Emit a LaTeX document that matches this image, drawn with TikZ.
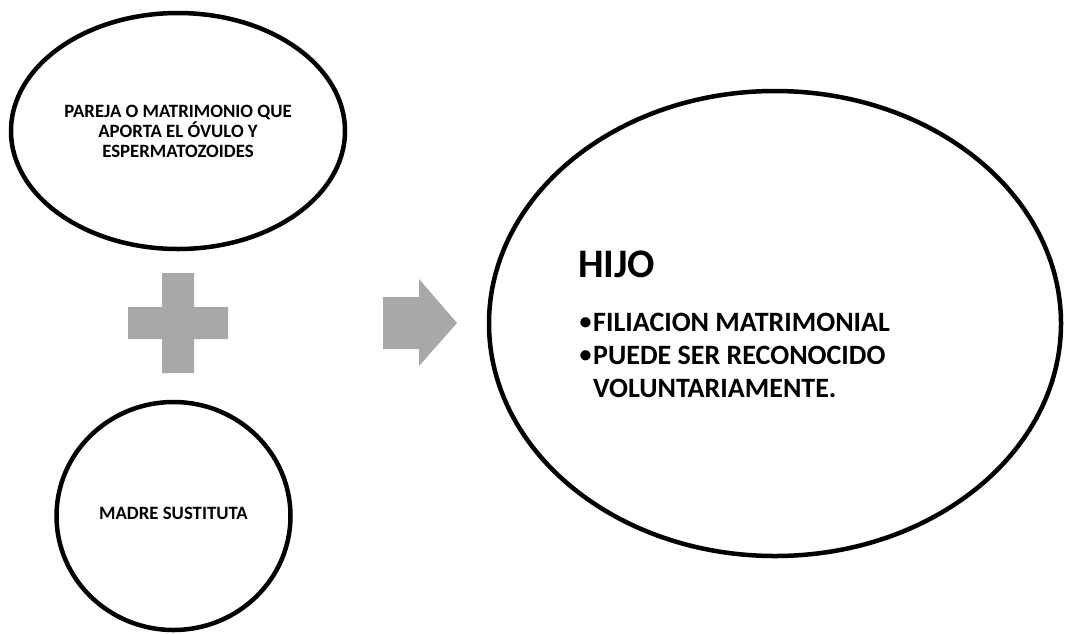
\documentclass[tikz,border=0pt]{standalone}
\usepackage{fontspec}
\setmainfont{Carlito}
\usetikzlibrary{shapes.geometric}
\definecolor{shapegray}{RGB}{168,168,168}
\tikzset{
  bubble/.style={draw=black, line width=4.5pt, ellipse, inner sep=0pt},
  smalltxt/.style={font=\bfseries\fontsize{18.8}{20}\selectfont, align=center, inner sep=0pt},
  bigtxt/.style={font=\bfseries\fontsize{28}{33}\selectfont, inner sep=0pt, anchor=base west},
  bullettxt/.style={font=\bfseries\fontsize{24}{33}\selectfont, inner sep=0pt, anchor=base west},
  symb/.style={fill=shapegray, draw=none}
}
\begin{document}
\begin{tikzpicture}[x=1pt,y=-1pt]
\useasboundingbox (0,0) rectangle (1065,633);
% ellipses
\node[bubble, minimum width=334pt, minimum height=236pt] (pareja) at (178,131) {};
\node[bubble, minimum width=234pt, minimum height=228pt] (madre) at (173.5,516) {};
\node[bubble, minimum width=572pt, minimum height=465pt] (hijo) at (775,323.5) {};
% texts
\node[smalltxt] (parejatxt) at (178,131) {PAREJA O MATRIMONIO QUE\\APORTA EL ÓVULO Y\\ESPERMATOZOIDES};
\node[smalltxt] (madretxt) at (173.5,513) {MADRE SUSTITUTA};
\node[font=\bfseries\fontsize{40.5}{44}\selectfont, inner sep=0pt, anchor=base west] (hijotitle) at (578,277) {HIJO};
\node[bullettxt] (b1) at (579.5,329.5) {•};
\node[bigtxt] (l1) at (593,331) {FILIACION MATRIMONIAL};
\node[bullettxt] (b2) at (579.5,362.5) {•};
\node[bigtxt] (l2) at (593,364) {PUEDE SER RECONOCIDO};
\node[bigtxt] (l3) at (593,397) {VOLUNTARIAMENTE.};
% plus sign
\fill[symb] (162,273) -- (194,273) -- (194,307) -- (228,307) -- (228,339) -- (194,339)
  -- (194,373) -- (162,373) -- (162,339) -- (128,339) -- (128,307) -- (162,307) -- cycle;
% arrow
\fill[symb] (383,297) -- (419,297) -- (419,279) -- (457,323) -- (419,366) -- (419,349) -- (383,349) -- cycle;
\end{tikzpicture}
\end{document}
